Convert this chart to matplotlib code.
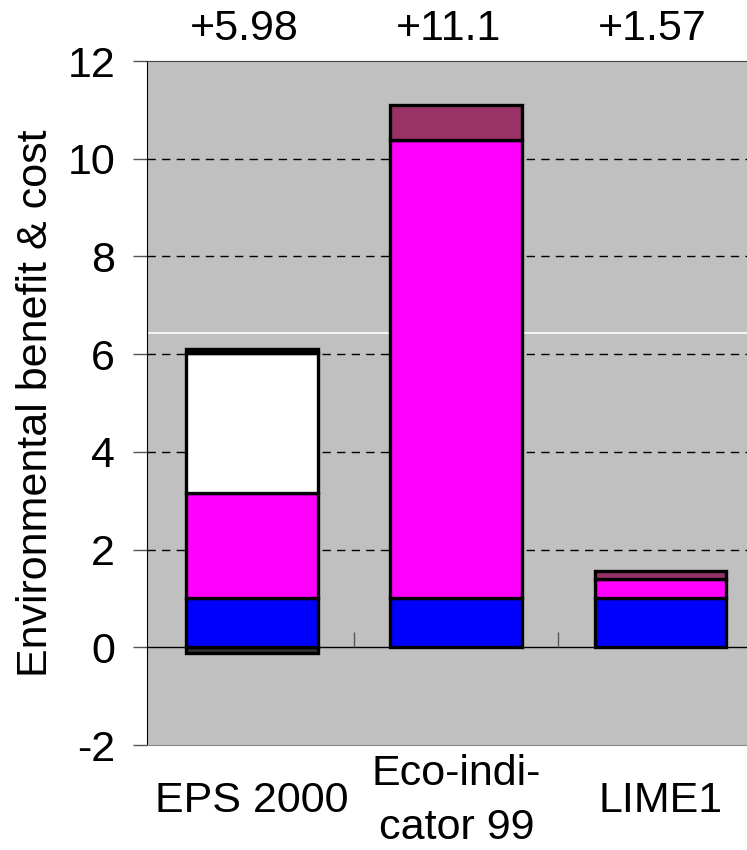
import numpy as np
import matplotlib.pyplot as plt

plt.rcParams['font.family'] = ['Liberation Sans', 'DejaVu Sans']
plt.rcParams['axes.unicode_minus'] = False

# data
methods = ["EPS 2000", "Eco-indi-\ncator 99", "LIME1"]
negative = [-0.12, 0.0, 0.0]
blue = [1.0, 1.0, 1.0]
magenta = [2.15, 9.38, 0.40]
white = [2.87, 0.0, 0.0]
black_top = [0.08, 0.0, 0.0]
purple = [0.0, 0.72, 0.17]
totals = ["+5.98", "+11.1", "+1.57"]

x = np.arange(len(methods))
width = 0.645

fig = plt.figure(figsize=(7.47, 8.5), dpi=100)
ax = fig.add_axes([0.1968, 0.1235, 0.8032, 0.8047])
ax.set_facecolor('#C0C0C0')

# gridlines and the odd white line
for g in [2, 4, 6, 8, 10]:
    ax.axhline(g, color='black', lw=1, ls=(0, (6, 4.5)), zorder=1)
ax.axhline(6.43, color='white', lw=1.2, zorder=1)
ax.axhline(0, color='black', lw=1, zorder=1)
ax.vlines([0.5, 1.5], 0, 0.32, color='#555555', lw=1, zorder=1)

def draw(vals, bottoms, color):
    vals = np.array(vals)
    idx = vals != 0
    ax.bar(x[idx], vals[idx], width, bottom=np.array(bottoms)[idx], color=color,
           edgecolor='black', linewidth=2.4, zorder=3)

# negative part
draw(negative, [0, 0, 0], '#333333')
base = np.zeros(3)
for vals, col in [(blue, '#0000FF'), (magenta, '#FF00FF'), (white, '#FFFFFF'),
                  (black_top, '#000000'), (purple, '#993366')]:
    draw(vals, base, col)
    base = base + np.array(vals)

ax.set_xlim(-0.515, 2.424)
ax.set_ylim(-2, 12)
ax.set_yticks(np.arange(-2, 13, 2))
ax.set_xticks(x)
ax.set_xticklabels(methods, linespacing=1.45)
for lab in ax.get_xticklabels():
    lab.set_va('center')
ax.tick_params(axis='x', length=0, pad=40, labelsize=31)
ax.tick_params(axis='y', length=10, width=1, color='#555555', labelsize=31, pad=13)

ax.spines['right'].set_visible(False)
ax.spines['left'].set_color('black')
ax.spines['top'].set_color('#444444')
ax.spines['top'].set_linewidth(0.8)
ax.spines['bottom'].set_color('#888888')
ax.spines['bottom'].set_linewidth(0.8)

ax.set_ylabel("Environmental benefit & cost", fontsize=31, labelpad=8)

for xi, t in zip(x, totals):
    ax.text(xi - 0.04, 12.65, t, ha='center', va='center', fontsize=31, clip_on=False)

fig.savefig('out.png', dpi=100)
